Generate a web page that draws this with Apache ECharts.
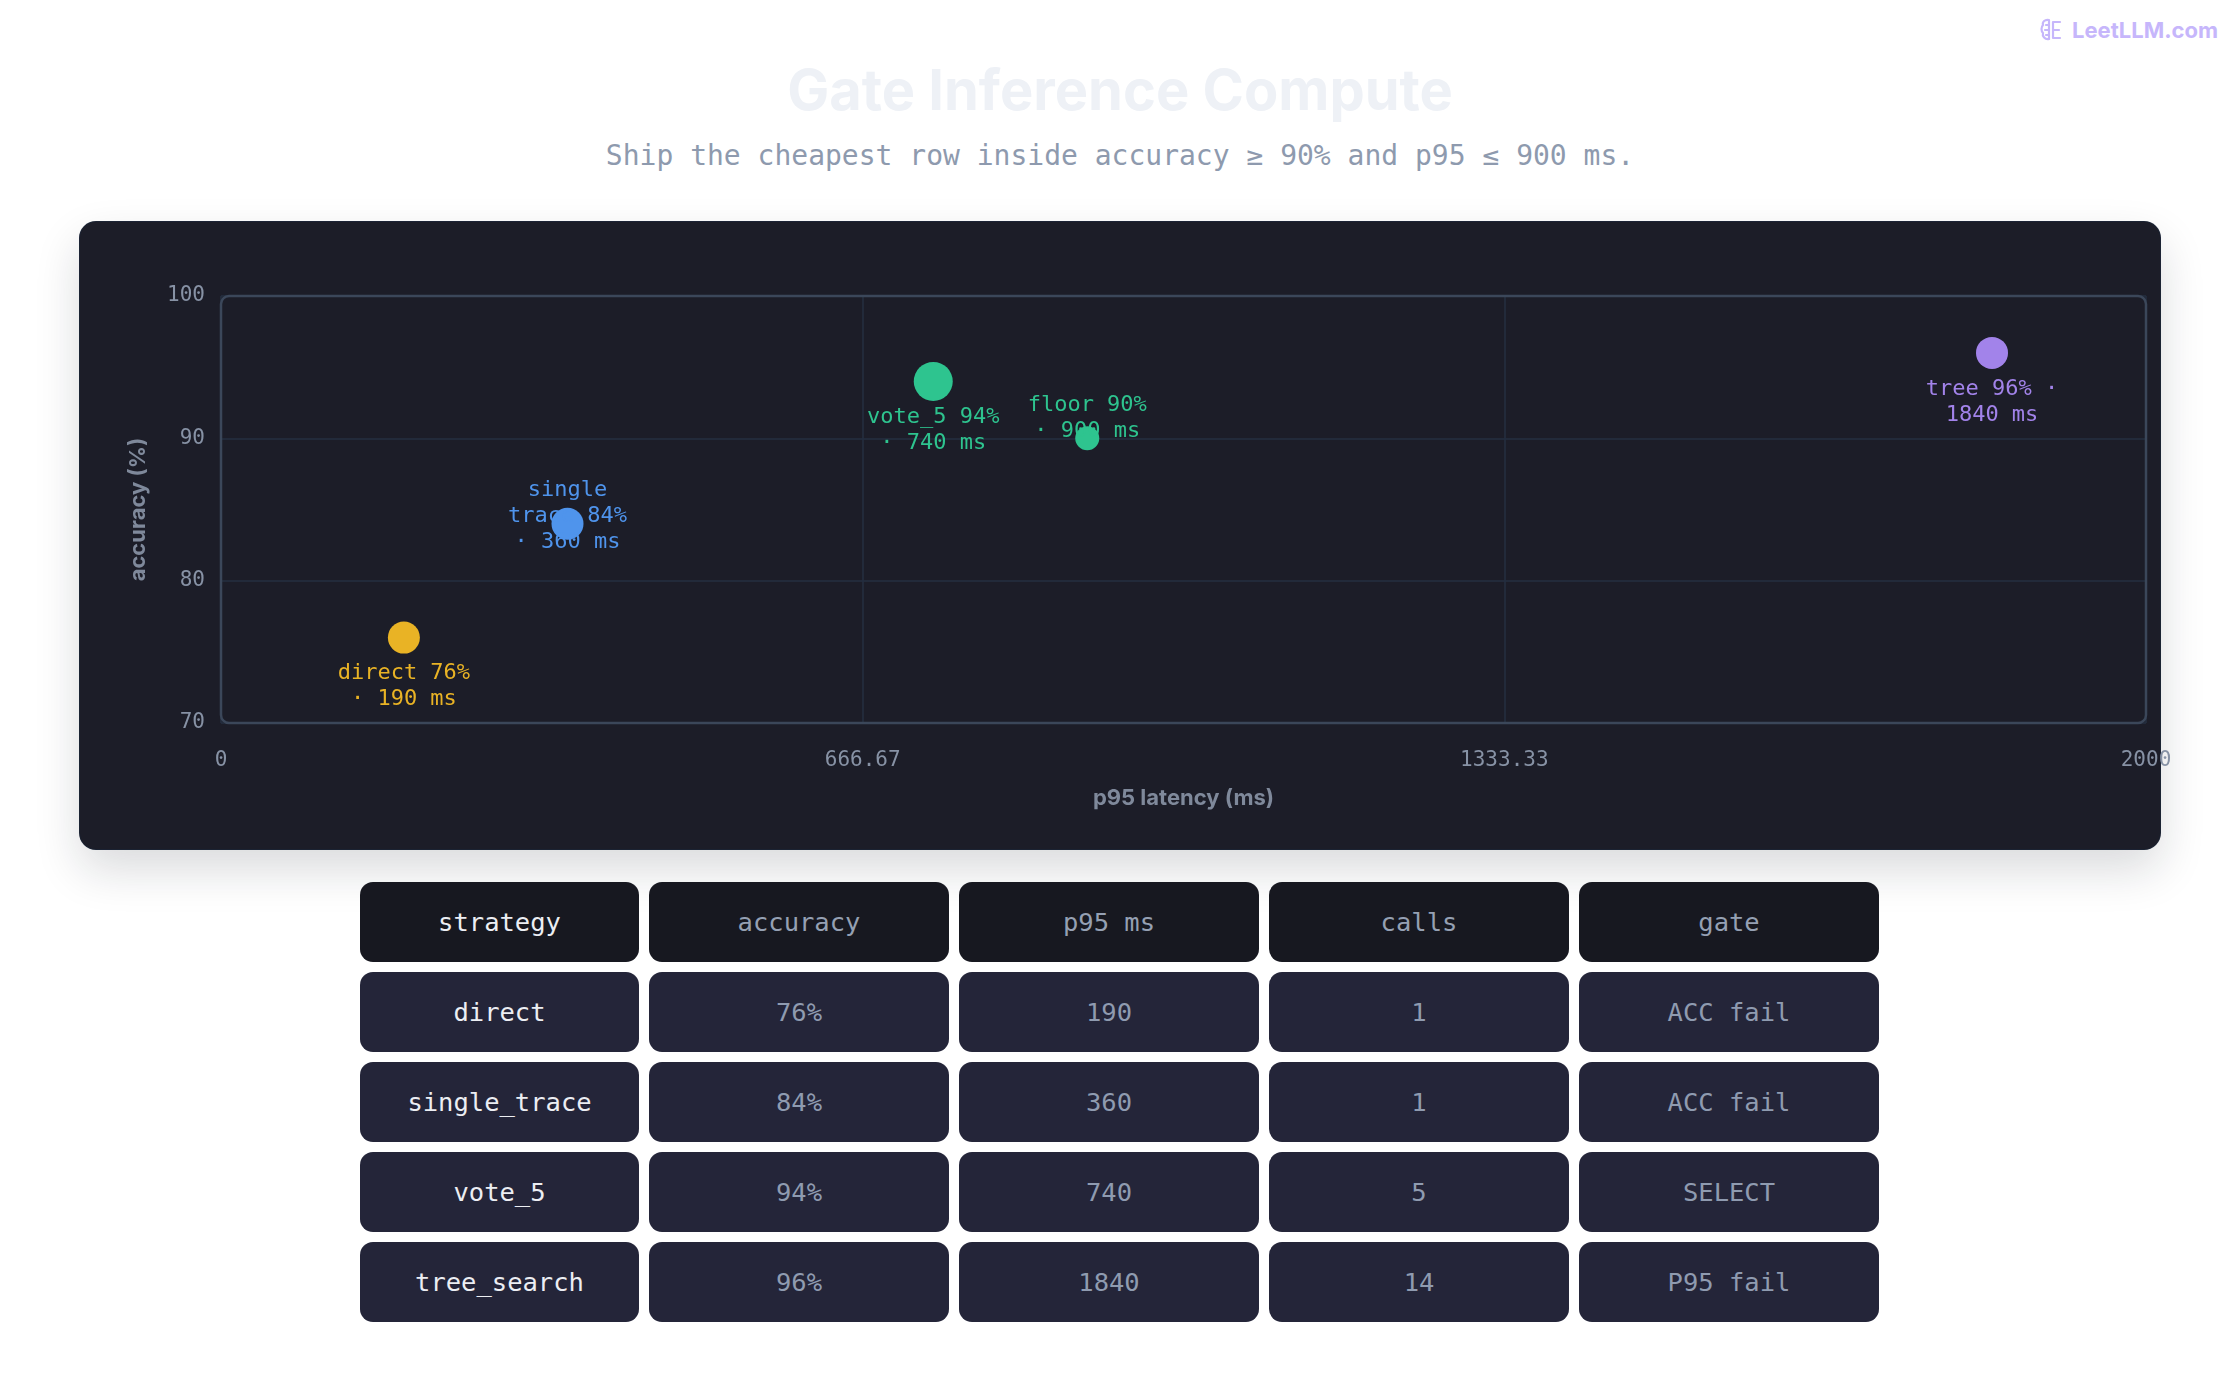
<!DOCTYPE html>
<html>
<head>
<meta charset="utf-8">
<script src="https://cdn.jsdelivr.net/npm/echarts@6/dist/echarts.min.js"></script>
<style>
  html, body { margin: 0; padding: 0; background: #ffffff; }
  body { width: 2240px; height: 1400px; position: relative; overflow: hidden; font-family: Inter, "Noto Sans", sans-serif; }
  #logo { position: absolute; right: 22px; top: 13px; height: 34px; display: flex; align-items: center; gap: 10px;
    color: #c6b6fb; font: 700 22px Inter, sans-serif; }
  #title { position: absolute; left: 0; width: 2240px; top: 56px; text-align: center;
    font: 700 56px Inter, sans-serif; color: #eef1f6; }
  #subtitle { position: absolute; left: 0; width: 2240px; top: 139px; text-align: center;
    font: 400 28px "DejaVu Sans Mono", monospace; color: #8e9aae; }
  #card { position: absolute; left: 80px; top: 222px; width: 2080px; height: 627px; border-radius: 16px;
    background: #1c1d28; box-shadow: 0 20px 46px rgba(20, 24, 40, 0.16), 0 0 0 1px #1d2536; }
  #chart { position: absolute; left: 0; top: 222px; width: 2240px; height: 627px; }
  #table { position: absolute; left: 360px; top: 882px; display: grid;
    grid-template-columns: 279px 300px 300px 300px 300px; grid-auto-rows: 80px; gap: 10px; }
  .cell { border-radius: 13px; background: #242539; color: #8f9bb0; display: flex; align-items: center;
    justify-content: center; font: 400 25.5px "DejaVu Sans Mono", monospace; }
  .cell.head { background: #171820; color: #95a0b3; }
  .cell.first { color: #eceef3; }
</style>
</head>
<body>
<div id="logo">
  <svg width="22" height="26" viewBox="0 0 22 26" fill="none" stroke="#c6b6fb" stroke-width="2.2" stroke-linecap="round">
    <path d="M9 3 C5 2 2 5 3 8 C1 10 1 14 3 16 C2 19 5 23 9 22 L9 3"/>
    <path d="M9 8 L6 8 M9 13 L5 13 M9 18 L6 18"/>
    <path d="M13 5 L20 5 M13 5 L13 21 M13 13 L19 13 M13 21 L20 21"/>
  </svg>
  <span>LeetLLM.com</span>
</div>
<div id="title">Gate Inference Compute</div>
<div id="subtitle">Ship the cheapest row inside accuracy ≥ 90% and p95 ≤ 900 ms.</div>
<div id="card"></div>
<div id="chart"></div>
<div id="table"></div>
<script>
// data
const strategies = ['direct', 'single_trace', 'vote_5', 'tree_search'];
const pointNames = ['direct', 'single trace', 'vote_5', 'tree'];
const accuracy = [76, 84, 94, 96];
const p95 = [190, 360, 740, 1840];
const calls = [1, 1, 5, 14];
const gates = ['ACC fail', 'ACC fail', 'SELECT', 'P95 fail'];
const floorAcc = 90;
const floorP95 = 900;
const tableHeader = ['strategy', 'accuracy', 'p95 ms', 'calls', 'gate'];
const xTickLabels = ['0', '666.67', '1333.33', '2000'];
const yTickLabels = ['70', '80', '90', '100'];

// style per point
const pointColors = ['#e9b325', '#4f94ec', '#2ec48f', '#a283ea'];
const pointSizes = [32, 32, 39, 32];
const labelDy = [49, -7, 49, 49];
const floorColor = '#2ec48f';

const mono = '"DejaVu Sans Mono", monospace';
const G = { left: 221, top: 74, width: 1925, height: 427 };

// wrap label words into lines of at most n chars
function wrap(text, n) {
  const lines = [];
  let cur = '';
  text.split(' ').forEach(w => {
    if (!cur) cur = w;
    else if (cur.length + 1 + w.length <= n) cur += ' ' + w;
    else { lines.push(cur); cur = w; }
  });
  if (cur) lines.push(cur);
  return lines.join('\n');
}

// table
const table = document.getElementById('table');
function addCell(text, cls) {
  const d = document.createElement('div');
  d.className = 'cell ' + cls;
  d.textContent = text;
  table.appendChild(d);
}
tableHeader.forEach((h, i) => addCell(h, 'head' + (i === 0 ? ' first' : '')));
strategies.forEach((s, i) => {
  addCell(s, 'first');
  addCell(accuracy[i] + '%', '');
  addCell(String(p95[i]), '');
  addCell(String(calls[i]), '');
  addCell(gates[i], '');
});

// chart
const chart = echarts.init(document.getElementById('chart'), null, { renderer: 'canvas' });

const labelBase = {
  show: true,
  fontFamily: mono,
  fontSize: 22,
  lineHeight: 26,
  align: 'center',
  position: 'inside',
  opacity: 1
};

const pts = strategies.map((s, i) => ({
  name: pointNames[i],
  value: [p95[i], accuracy[i]],
  symbolSize: pointSizes[i],
  itemStyle: { color: pointColors[i], opacity: 1 },
  label: Object.assign({}, labelBase, {
    color: pointColors[i],
    offset: [0, labelDy[i]],
    formatter: wrap(pointNames[i] + ' ' + accuracy[i] + '% · ' + p95[i] + ' ms', 10)
  })
}));

const axisName = { color: '#7f899b', fontFamily: 'Inter, sans-serif', fontWeight: 700, fontSize: 22 };

const option = {
  backgroundColor: 'transparent',
  animation: false,
  grid: Object.assign({ show: false }, G),
  xAxis: {
    type: 'value', min: 0, max: 2000, interval: 2000 / 3,
    name: 'p95 latency (ms)', nameLocation: 'middle', nameGap: 64,
    nameTextStyle: axisName,
    axisLine: { show: false }, axisTick: { show: false },
    axisLabel: { margin: 27, color: '#8792a5', fontFamily: mono, fontSize: 21,
      formatter: (v, i) => xTickLabels[i] },
    splitLine: { show: true, lineStyle: { color: '#252f40', width: 1.5 } }
  },
  yAxis: {
    type: 'value', min: 70, max: 100, interval: 10,
    name: 'accuracy (%)', nameLocation: 'middle', nameGap: 72,
    nameTextStyle: axisName,
    axisLine: { show: false }, axisTick: { show: false },
    axisLabel: { margin: 16, color: '#8792a5', fontFamily: mono, fontSize: 21, padding: [4, 0, 0, 0],
      formatter: (v, i) => yTickLabels[i] },
    splitLine: { show: true, lineStyle: { color: '#252f40', width: 1.5 } }
  },
  graphic: [{
    type: 'rect', z: 1, silent: true,
    shape: { x: G.left, y: G.top, width: G.width, height: G.height, r: 8 },
    style: { fill: 'none', stroke: '#3b475a', lineWidth: 2.5 }
  }],
  series: [
    {
      type: 'scatter', z: 3,
      data: pts
    },
    {
      type: 'scatter', z: 3,
      data: [{
        name: 'floor',
        value: [floorP95, floorAcc],
        symbolSize: 24,
        itemStyle: { color: floorColor, opacity: 1 },
        label: Object.assign({}, labelBase, {
          color: floorColor,
          offset: [0, -20],
          formatter: wrap('floor ' + floorAcc + '% · ' + floorP95 + ' ms', 10)
        })
      }]
    }
  ]
};
chart.setOption(option);
</script>
</body>
</html>
